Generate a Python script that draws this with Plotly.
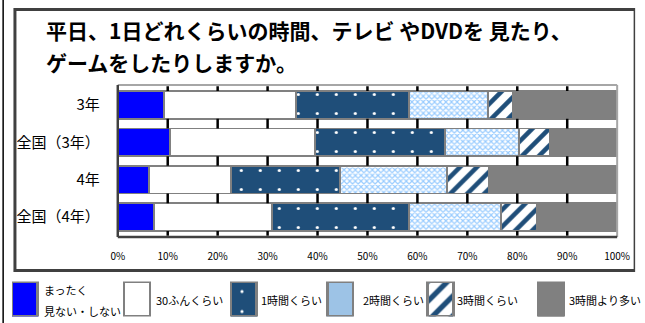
import plotly.graph_objects as go

# ---- data -------------------------------------------------------------
categories = ["3年", "全国（3年）", "4年", "全国（4年）"]
never = [9.2, 10.4, 6.2, 7.3]        # まったく見ない・しない
min30 = [26.5, 29.1, 16.4, 23.6]     # 30ふんくらい
hour1 = [22.6, 26.1, 21.9, 27.4]     # 1時間くらい
hour2 = [15.8, 14.8, 21.5, 18.5]     # 2時間くらい
hour3 = [5.1, 6.2, 8.3, 7.2]         # 3時間くらい
over3 = [20.8, 13.4, 25.7, 16.0]     # 3時間より多い

series_names = ["まったく<br>見ない・しない", "30ふんくらい", "1時間くらい",
                "2時間くらい", "3時間くらい", "3時間より多い"]
series_values = [never, min30, hour1, hour2, hour3, over3]
tick_values = list(range(0, 101, 10))
tick_labels = [f"{v}%" for v in tick_values]

title_lines = ["平日、1日どれくらいの時間、テレビ やDVDを 見たり、",
               "ゲームをしたりしますか。"]

# ---- styles -----------------------------------------------------------
W, H = 645, 323
ML, MR, MT, MB = 10, 10, 85, 5
PW, PH = W - ML - MR, H - MT - MB
BARGAP = 0.26

def px_x(x):
    return (x - ML) / PW

def px_y(y):
    return (H - MB - y) / PH

FONT = "Noto Sans CJK JP"
DARK = "#1f4e79"
EDGE = "#808080"

bar_styles = [
    dict(color="#0000ff"),
    dict(color="#ffffff"),
    dict(color=DARK, pattern=dict(shape=".", fgcolor="#ffffff", bgcolor=DARK,
                                  size=19, solidity=0.022, fillmode="replace")),
    dict(color="#ffffff", pattern=dict(shape="x", fgcolor="#99ccff", bgcolor="#ffffff",
                                       size=4, solidity=0.5, fillmode="replace")),
    dict(color="#ffffff", pattern=dict(shape="/", fgcolor=DARK, bgcolor="#ffffff",
                                       size=12, solidity=0.38, fillmode="replace")),
    dict(color="#808080"),
]
swatch_styles = [
    dict(color="#0000ff"),
    dict(color="#ffffff"),
    dict(color=DARK, pattern=dict(shape=".", fgcolor="#ffffff", bgcolor=DARK,
                                  size=20, solidity=0.02, fillmode="replace")),
    dict(color="#9dc3e6"),
    dict(color="#ffffff", pattern=dict(shape="/", fgcolor=DARK, bgcolor="#ffffff",
                                       size=14, solidity=0.38, fillmode="replace")),
    dict(color="#808080"),
]
# legend swatch centres (px) and label starts (px)
swatch_x = [23, 137, 245.5, 343.5, 445.5, 558]
label_x = [40, 154, 261, 365, 460, 574]

fig = go.Figure()

# stacked horizontal bars
for name, vals, st in zip(series_names, series_values, bar_styles):
    fig.add_trace(go.Bar(
        y=categories, x=vals, orientation="h", name=name,
        marker=dict(**st, line=dict(color=EDGE, width=1.8)),
        showlegend=False, hoverinfo="skip",
    ))

# legend swatches drawn as bars in a dedicated pixel-scaled subplot
for name, sx, st in zip(series_names, swatch_x, swatch_styles):
    fig.add_trace(go.Bar(
        x=[sx], y=[1], width=[26], base=[0], orientation="v",
        marker=dict(**st, line=dict(color=EDGE, width=2.5)),
        xaxis="x2", yaxis="y2", showlegend=False, hoverinfo="skip",
    ))

annotations = []
for i, line in enumerate(title_lines):
    annotations.append(dict(
        text=f"<b>{line}</b>", xref="paper", yref="paper",
        x=px_x(43), y=px_y(30 + 32 * i), xanchor="left", yanchor="middle",
        showarrow=False, font=dict(family=FONT, size=21, color="#000000"),
    ))
for i, (name, lx) in enumerate(zip(series_names, label_x)):
    if i == 0:
        annotations.append(dict(
            text="まったく", xref="paper", yref="paper", x=px_x(lx), y=px_y(290),
            xanchor="left", yanchor="middle", showarrow=False,
            font=dict(family=FONT, size=11, color="#000000")))
        annotations.append(dict(
            text="見ない・しない", xref="paper", yref="paper", x=px_x(lx), y=px_y(311),
            xanchor="left", yanchor="middle", showarrow=False,
            font=dict(family=FONT, size=11, color="#000000")))
    else:
        annotations.append(dict(
            text=name, xref="paper", yref="paper", x=px_x(lx), y=px_y(300),
            xanchor="left", yanchor="middle", showarrow=False,
            font=dict(family=FONT, size=11, color="#000000")))

# gridline segments at each tick, shown in the gaps between the bars
half = (1 - BARGAP) / 2
n_cat = len(categories)
gaps = [(-0.5, -half)] + [(i + half, i + 1 - half) for i in range(n_cat - 1)] \
       + [(n_cat - 1 + half, n_cat - 0.5)]
shapes = [
    dict(type="line", xref="x", yref="y", x0=v, x1=v, y0=g0, y1=g1,
         layer="above", line=dict(color="#000000", width=2.5))
    for v in tick_values[1:-1] for g0, g1 in gaps
]
shapes += [
    # outer frame
    dict(type="line", xref="paper", yref="paper", x0=px_x(13), x1=px_x(13),
         y0=px_y(8), y1=px_y(272), line=dict(color="#404040", width=3)),
    dict(type="line", xref="paper", yref="paper", x0=px_x(12), x1=px_x(643),
         y0=px_y(9.5), y1=px_y(9.5), line=dict(color="#404040", width=3)),
    dict(type="line", xref="paper", yref="paper", x0=px_x(12), x1=px_x(643),
         y0=px_y(270.5), y1=px_y(270.5), line=dict(color="#404040", width=3)),
    dict(type="line", xref="paper", yref="paper", x0=px_x(642.5), x1=px_x(642.5),
         y0=px_y(8), y1=px_y(272), line=dict(color="#404040", width=1.5)),
    dict(type="line", xref="paper", yref="paper", x0=px_x(1), x1=px_x(1),
         y0=px_y(0), y1=px_y(323), line=dict(color="#000000", width=1.5)),
    # plot-area border
    dict(type="line", xref="x domain", yref="y domain", x0=0, x1=1, y0=1, y1=1,
         line=dict(color="#a6a6a6", width=2)),
    dict(type="line", xref="x domain", yref="y domain", x0=1, x1=1, y0=0, y1=1,
         line=dict(color="#a6a6a6", width=2)),
    dict(type="line", xref="x domain", yref="y domain", x0=0, x1=0, y0=0, y1=1,
         line=dict(color="#404040", width=2.5)),
    dict(type="line", xref="x domain", yref="y domain", x0=0, x1=1, y0=0, y1=0,
         line=dict(color="#404040", width=2.5)),
]

fig.update_layout(
    width=W, height=H,
    margin=dict(l=ML, r=MR, t=MT, b=MB),
    paper_bgcolor="#ffffff", plot_bgcolor="#ffffff",
    barmode="stack", bargap=BARGAP,
    font=dict(family=FONT, color="#000000"),
    xaxis=dict(domain=[px_x(117.5), px_x(625)], range=[0, 100],
               tickvals=tick_values, ticktext=tick_labels,
               tickfont=dict(size=10, family=FONT, color="#000000"),
               showgrid=False, zeroline=False, showline=False, ticks="",
               ticklabelstandoff=12, fixedrange=True),
    yaxis=dict(domain=[px_y(237), 1], autorange="reversed",
               tickfont=dict(size=15, family=FONT, color="#000000"),
               showgrid=False, zeroline=False, showline=False, ticks="",
               ticklabelstandoff=17, fixedrange=True),
    xaxis2=dict(domain=[0, 1], range=[ML, W - MR], anchor="y2", visible=False,
                fixedrange=True),
    yaxis2=dict(domain=[px_y(316.5), px_y(281.5)], range=[0, 1], anchor="x2",
                visible=False, fixedrange=True),
    annotations=annotations,
    shapes=shapes,
)

fig.write_html("out.html")
